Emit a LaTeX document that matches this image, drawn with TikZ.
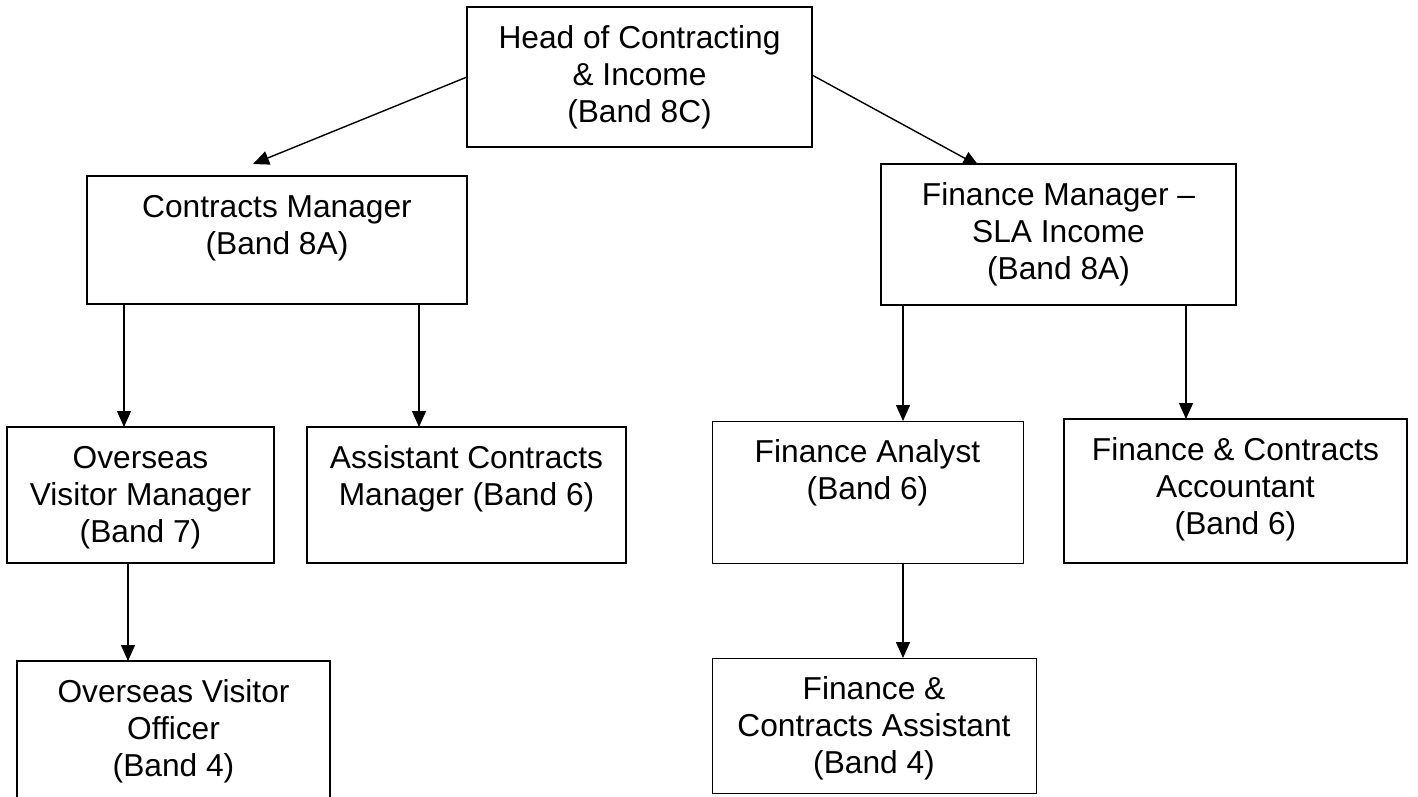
\documentclass[tikz,border=0pt]{standalone}
\usepackage{fontspec}
\setmainfont{Liberation Sans}
\usetikzlibrary{arrows.meta,backgrounds}
\newcommand{\bx}[3]{\parbox[c][#1pt][t]{#2pt}{\centering\fontsize{31.7}{37}\selectfont\rule{0pt}{41pt}#3}}
\tikzset{
  orgbox/.style={draw, fill=white, line width=1.5pt, inner sep=0pt, outer sep=0pt, anchor=north west},
  thinbox/.style={orgbox, line width=1pt},
  thickbox/.style={orgbox, line width=2.4pt},
  arr/.style={-{Triangle[length=16pt,width=14pt]}, line width=1.4pt}
}
\begin{document}
\begin{tikzpicture}[x=1pt,y=-1pt]
\useasboundingbox (0,0) rectangle (1418,796);
\node[orgbox] (head) at (467,7) {\bx{140}{345}{Head of Contracting\\\& Income\\(Band 8C)}};
\node[orgbox] (cm) at (87,176) {\bx{128}{380}{Contracts Manager\\(Band 8A)}};
\node[orgbox] (fm) at (881,164) {\bx{141}{355}{Finance Manager –\\SLA Income\\(Band 8A)}};
\node[orgbox] (ovm) at (7,427) {\bx{136}{267}{Overseas\\Visitor Manager\\(Band 7)}};
\node[orgbox] (acm) at (307,427) {\bx{136}{319}{Assistant Contracts\\Manager (Band 6)}};
\node[orgbox] (ovo) at (17,661) {\bx{150}{313}{Overseas Visitor\\Officer\\(Band 4)}};
\node[thinbox] (fa) at (712,421) {\bx{142}{311}{Finance Analyst\\(Band 6)}};
\node[thickbox] (fca) at (1064,419) {\bx{144}{343}{Finance \& Contracts\\Accountant\\(Band 6)}};
\node[thinbox] (fcas) at (712,658) {\bx{135}{324}{Finance \&\\Contracts Assistant\\(Band 4)}};
\coordinate (tipl) at (253,164);
\coordinate (tipr) at (979,166);
\begin{scope}[on background layer]
\fill[white] (0,0) rectangle (1418,796);
\draw[arr] (head.west) -- (tipl);
\draw[arr] ([yshift=2pt]head.east) -- (tipr);
\draw[arr] (cm.south -| 124,0) -- (ovm.north -| 124,0);
\draw[arr] (cm.south -| 419,0) -- (acm.north -| 419,0);
\draw[arr] (ovm.south -| 128,0) -- (ovo.north -| 128,0);
\draw[arr] (fm.south -| 903,0) -- (fa.north -| 903,0);
\draw[arr] (fm.south -| 1186,0) -- (fca.north -| 1186,0);
\draw[arr] (fa.south -| 903,0) -- (fcas.north -| 903,0);
\end{scope}
\end{tikzpicture}
\end{document}
